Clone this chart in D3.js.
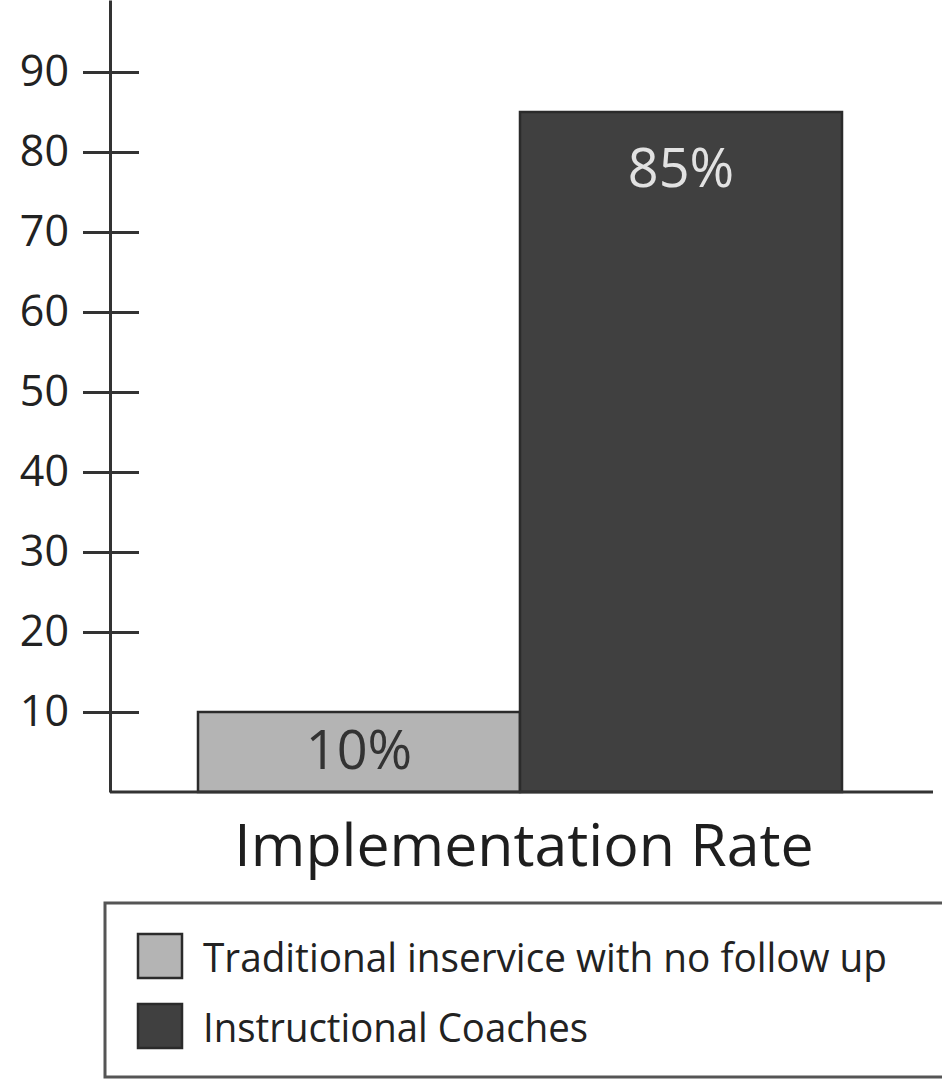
<!DOCTYPE html>
<html>
<head>
<meta charset="utf-8">
<script src="https://cdn.jsdelivr.net/npm/d3@7"></script>
<style>
  html, body { margin: 0; padding: 0; background: #fff; }
  svg { display: block; font-family: "Open Sans", "Noto Sans", sans-serif; }
</style>
</head>
<body>
<svg id="chart" width="942" height="1080"></svg>
<script>
// Implementation rate by professional-development approach
const categories = ["Traditional inservice with no follow up", "Instructional Coaches"];
const rates = [10, 85];
const rateLabels = ["10%", "85%"];
const tickValues = [10, 20, 30, 40, 50, 60, 70, 80, 90];
const axisTitle = "Implementation Rate";
const fills = ["#b4b4b4", "#404040"];
const labelColors = ["#333333", "#e2e2e2"];

const svg = d3.select("#chart");
const axisX = 110;

const y = d3.scaleLinear().domain([0, 99]).range([792, 0]);
const x = d3.scaleBand().domain(categories).range([198, 842]).padding(0);

// Bars
svg.append("g").selectAll("rect")
  .data(categories)
  .join("rect")
  .attr("x", d => x(d))
  .attr("y", (d, i) => y(rates[i]))
  .attr("width", x.bandwidth())
  .attr("height", (d, i) => y(0) - y(rates[i]))
  .attr("fill", (d, i) => fills[i])
  .attr("stroke", "#2b2b2b")
  .attr("stroke-width", 2.5);

// Value labels inside bars
svg.append("g").selectAll("text")
  .data(categories)
  .join("text")
  .attr("x", d => x(d) + x.bandwidth() / 2)
  .attr("y", (d, i) => i === 0 ? y(rates[i]) + 57 : y(rates[i]) + 75)
  .attr("text-anchor", "middle")
  .attr("font-size", 54)
  .attr("fill", (d, i) => labelColors[i])
  .text((d, i) => rateLabels[i]);

// Y axis with ticks crossing the axis line
const yAxis = d3.axisLeft(y)
  .tickValues(tickValues)
  .tickSize(27)
  .tickSizeOuter(0)
  .tickPadding(14);

const gAxis = svg.append("g")
  .attr("transform", `translate(${axisX},0)`)
  .call(yAxis);

gAxis.select(".domain")
  .attr("stroke", "#333")
  .attr("stroke-width", 3);
gAxis.selectAll(".tick line")
  .attr("x1", -27)
  .attr("x2", 29)
  .attr("stroke", "#333")
  .attr("stroke-width", 3);
gAxis.selectAll(".tick text")
  .attr("font-size", 43)
  .attr("fill", "#222")
  .attr("font-family", "'Open Sans', 'Noto Sans', sans-serif");

// Baseline
svg.append("line")
  .attr("x1", axisX)
  .attr("x2", 933)
  .attr("y1", y(0))
  .attr("y2", y(0))
  .attr("stroke", "#333")
  .attr("stroke-width", 3);

// Axis title
svg.append("text")
  .attr("x", 524)
  .attr("y", 866)
  .attr("text-anchor", "middle")
  .attr("font-size", 59)
  .attr("fill", "#1e1e1e")
  .text(axisTitle);

// Legend
const legend = svg.append("g");
legend.append("rect")
  .attr("x", 105)
  .attr("y", 903)
  .attr("width", 850)
  .attr("height", 174)
  .attr("fill", "#fff")
  .attr("stroke", "#555")
  .attr("stroke-width", 3);

const rows = legend.selectAll("g.row")
  .data(categories)
  .join("g")
  .attr("class", "row")
  .attr("transform", (d, i) => `translate(137,${933 + i * 70})`);

rows.append("rect")
  .attr("x", 1)
  .attr("y", 1)
  .attr("width", 44)
  .attr("height", 44)
  .attr("fill", (d, i) => fills[i])
  .attr("stroke", "#2b2b2b")
  .attr("stroke-width", 2.5);

rows.append("text")
  .attr("x", 66)
  .attr("y", 39)
  .attr("font-size", 40)
  .attr("fill", "#222")
  .attr("textLength", (d, i) => i === 0 ? 684 : 385)
  .attr("lengthAdjust", "spacingAndGlyphs")
  .text(d => d);
</script>
</body>
</html>
